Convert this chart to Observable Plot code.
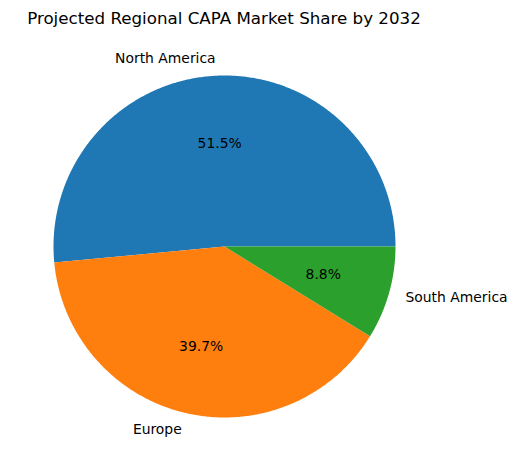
<!DOCTYPE html>
<html>
<head>
<meta charset="utf-8">
<script src="https://cdn.jsdelivr.net/npm/d3@7"></script>
<script src="https://cdn.jsdelivr.net/npm/@observablehq/plot@0.6"></script>
<style>
  body { margin: 0; background: #fff; }
  #title { width: 448px; height: 32px; box-sizing: border-box; padding-top: 8px; line-height: 20px;
           font-family: "DejaVu Sans", sans-serif; font-size: 16.7px; text-align: center; color: #000; }
</style>
</head>
<body>
<div id="title">Projected Regional CAPA Market Share by 2032</div>
<div id="chart"></div>
<script>
const regions = ["North America", "Europe", "South America"];
const shares = [51.5, 39.7, 8.8];
const colors = ["#1f77b4", "#ff7f0e", "#2ca02c"];

const total = d3.sum(shares);
const ends = d3.cumsum(shares);
const slices = regions.map((r, i) => {
  const a0 = (ends[i] - shares[i]) / total * 2 * Math.PI;
  const a1 = ends[i] / total * 2 * Math.PI;
  return {region: r, share: shares[i], a0, a1, mid: (a0 + a1) / 2};
});

// polygon vertices derived from the shares
const poly = [];
for (const s of slices) {
  poly.push({region: s.region, x: 0, y: 0});
  const n = Math.max(2, Math.ceil((s.a1 - s.a0) / (Math.PI / 360)));
  for (let k = 0; k <= n; k++) {
    const a = s.a0 + (s.a1 - s.a0) * k / n;
    poly.push({region: s.region, x: Math.cos(a), y: Math.sin(a)});
  }
  poly.push({region: s.region, x: 0, y: 0});
}
const outer = slices.map(s => ({region: s.region, x: 1.1 * Math.cos(s.mid), y: 1.1 * Math.sin(s.mid)}));
const inner = slices.map(s => ({pct: s.share.toFixed(1) + "%", x: 0.6 * Math.cos(s.mid), y: 0.6 * Math.sin(s.mid)}));

const W = 516, H = 438, R = 171, cx = 224, cy = 214;
const chart = Plot.plot({
  width: W, height: H,
  margin: 0,
  x: {domain: [-cx / R, (W - cx) / R], axis: null},
  y: {domain: [-(H - cy) / R, cy / R], axis: null},
  color: {domain: regions, range: colors},
  style: {fontFamily: "DejaVu Sans, sans-serif", fontSize: "13.9px", color: "#000", background: "#fff"},
  marks: [
    Plot.line(poly, {x: "x", y: "y", z: "region", fill: "region", stroke: "none", curve: "linear"}),
    Plot.text(outer.filter(d => d.x < 0), {x: "x", y: "y", text: "region", textAnchor: "end", fill: "#000", fontSize: 13.9}),
    Plot.text(outer.filter(d => d.x >= 0), {x: "x", y: "y", text: "region", textAnchor: "start", fill: "#000", fontSize: 13.9}),
    Plot.text(inner, {x: "x", y: "y", text: "pct", textAnchor: "middle", fill: "#000", fontSize: 13.9})
  ]
});
document.getElementById("chart").appendChild(chart);
</script>
</body>
</html>
